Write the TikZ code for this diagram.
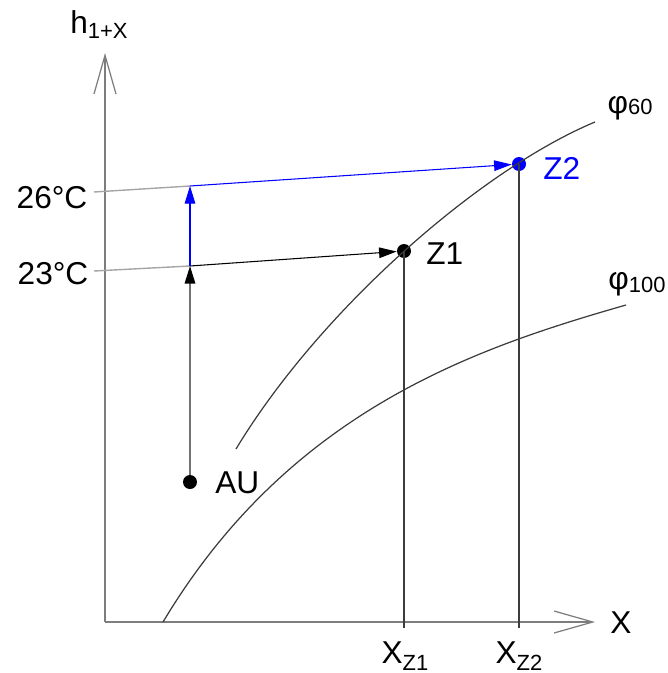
\documentclass[tikz,border=0pt]{standalone}
\usepackage{fontspec}
\setmainfont{Liberation Sans}
\usetikzlibrary{arrows.meta}
\definecolor{cBlue}{RGB}{0,0,255}
\definecolor{cAxis}{RGB}{125,125,125}
\definecolor{cLine}{RGB}{60,60,60}
\definecolor{cGuide}{RGB}{165,165,165}
\newcommand{\lowidx}[2][3pt]{\raisebox{-#1}{\fontsize{12.5}{13}\selectfont #2}}
\tikzset{
  lbl/.style={font=\fontsize{18}{20}\selectfont, inner sep=0pt},
  dot/.style={circle, fill=black, inner sep=0pt, minimum size=0.28cm},
  axisline/.style={draw=cAxis, line width=0.9pt,
                   -{Straight Barb[length=22pt, width=12.5pt, line width=0.7pt]}},
  curve/.style={draw=cLine, line width=0.7pt},
  guide/.style={draw=cGuide, line width=0.8pt},
  drop/.style={draw=cLine, line width=0.7pt},
  arrow/.style={-{Triangle[length=10pt, width=6pt]}, line width=0.6pt, draw=black},
  greyarrow/.style={-{Triangle[length=10pt, width=6pt, color=black]},
                    line width=0.8pt, draw=black!55},
  bluearrow/.style={arrow, draw=cBlue}
}

\begin{document}
\begin{tikzpicture}[x=0.02cm, y=-0.02cm]
  \useasboundingbox (0,0) rectangle (667,673);

  % ── Axes ──
  \coordinate (O) at (105,622);
  \coordinate (ytip) at (105,53);
  \coordinate (xtip) at (595,622);
  \draw[axisline] (O) -- (ytip);
  \draw[axisline] (O) -- (xtip);
  \node[lbl, anchor=base] (hlab) at (99,33) {h\lowidx{1+X}};
  \node[lbl, anchor=base west] (xlab) at (610,633) {X};

  % ── State points ──
  \node[dot] (AU) at (190,482) {};
  \node[dot] (Z1) at (404,251) {};
  \node[dot, fill=cBlue] (Z2) at (519,164) {};
  \coordinate (p23) at (190,266);
  \coordinate (p26) at (190,186);
  \coordinate (g23) at (94,271);
  \coordinate (g26) at (94,192);
  \coordinate (f1) at (404,628);
  \coordinate (f2) at (519,628);

  % ── Curves phi 60 / phi 100 ──
  \draw[curve] (236,449) .. controls (320,310) and (480,170) .. (595,122);
  \draw[curve] (163,622) .. controls (290,410) and (476,348) .. (626,305);

  % ── Drop lines ──
  \draw[drop] (Z1.center) -- (f1);
  \draw[drop] (Z2.center) -- (f2);

  % ── Temperature guides ──
  \draw[guide] (g23) -- (p23);
  \draw[guide] (g26) -- (p26);

  % ── Arrows ──
  \draw[greyarrow] (AU) -- (p23);
  \draw[arrow] (p23) -- (Z1);
  \draw[bluearrow] (p23) -- (p26);
  \draw[bluearrow] (p26) -- (Z2);

  % ── Labels ──
  \node[lbl, anchor=base] (t26) at (52,208) {26°C};
  \node[lbl, anchor=base] (t23) at (53,284) {23°C};
  \node[lbl, anchor=base west] (lAU) at (215,493) {AU};
  \node[lbl, anchor=base west] (lZ1) at (426,264) {Z1};
  \node[lbl, anchor=base west, text=cBlue] (lZ2) at (543,179) {Z2};
  \node[lbl, anchor=base] (lX1) at (405,663) {X\lowidx[4pt]{Z1}};
  \node[lbl, anchor=base] (lX2) at (519,663) {X\lowidx[4pt]{Z2}};
  \node[lbl, anchor=base] (lphi60) at (630,113) {φ\lowidx[1pt]{60}};
  \node[lbl, anchor=base] (lphi100) at (637,289) {φ\lowidx[2pt]{100}};

\end{tikzpicture}
\end{document}
